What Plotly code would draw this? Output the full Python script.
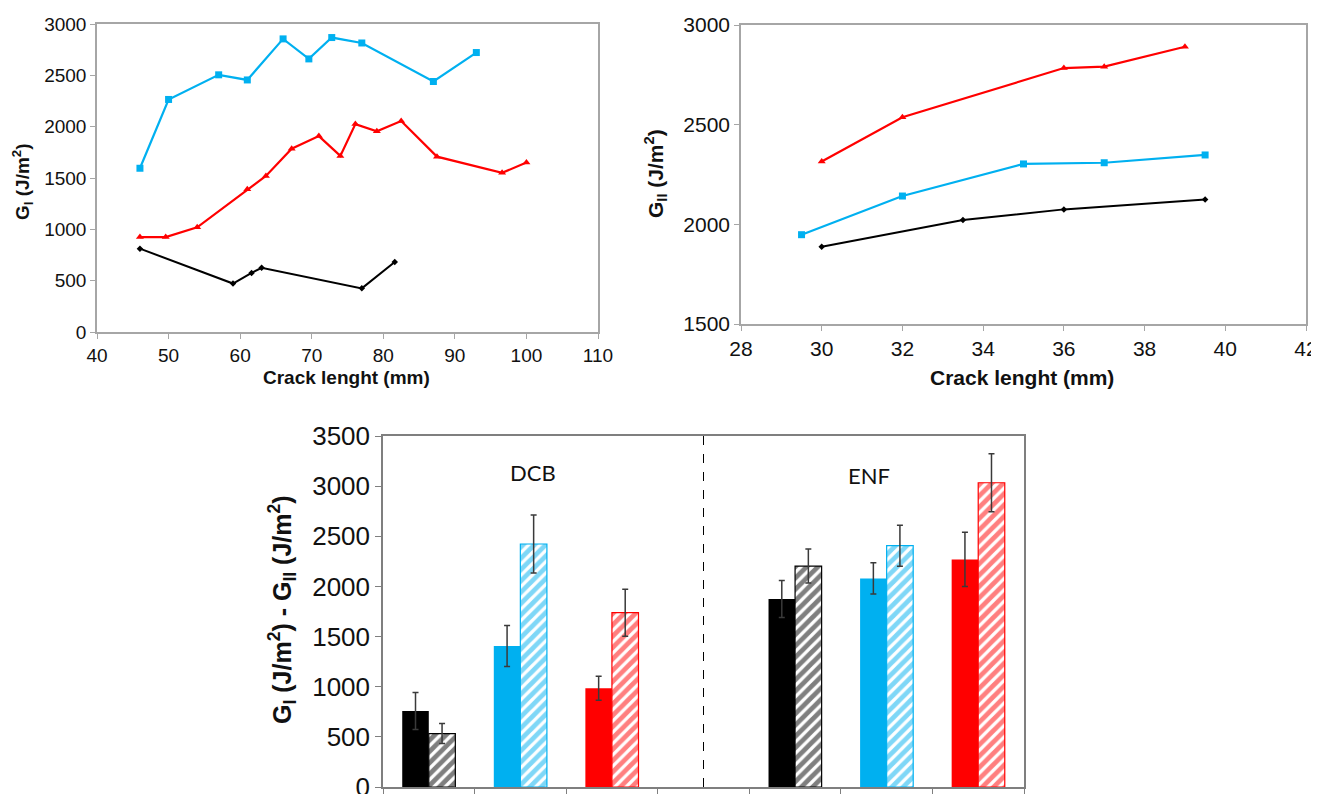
import plotly.graph_objects as go

W, H = 1319, 794
PAGE_OFFSET = 8  # default body margin of the html page

# ---------- Data: Mode I (DCB) R-curves ----------
gi_blue_x = [46, 50, 57, 61, 66, 69.6, 72.8, 77, 87, 93]
gi_blue_y = [1595, 2265, 2505, 2455, 2855, 2660, 2868, 2815, 2440, 2722]
gi_red_x = [46, 49.6, 54, 61, 63.6, 67.2, 71, 74, 76.1, 79.1, 82.5, 87.5, 96.6, 100]
gi_red_y = [925, 925, 1020, 1390, 1520, 1785, 1908, 1715, 2025, 1955, 2055, 1708, 1550, 1652]
gi_black_x = [46, 59, 61.6, 63, 77, 81.6]
gi_black_y = [812, 472, 575, 625, 425, 682]

# ---------- Data: Mode II (ENF) R-curves ----------
gii_red_x = [30, 32, 36, 37, 39]
gii_red_y = [2315, 2537, 2784, 2791, 2891]
gii_blue_x = [29.5, 32, 35, 37, 39.5]
gii_blue_y = [1948, 2142, 2303, 2309, 2348]
gii_black_x = [30, 33.5, 36, 39.5]
gii_black_y = [1888, 2022, 2075, 2125]

# ---------- Data: bar chart ----------
bar_categories = ["DCB-black", "DCB-blue", "DCB-red", "gap", "ENF-black", "ENF-blue", "ENF-red"]
bar_colors = ["#000000", "#00B0F0", "#FF0000", "#FFFFFF", "#000000", "#00B0F0", "#FF0000"]
solid_vals = [758, 1406, 984, None, 1874, 2080, 2269]
solid_err = [185, 205, 120, None, 185, 155, 270]
hatch_vals = [533, 2423, 1738, None, 2203, 2406, 3034]
hatch_err = [100, 290, 235, None, 170, 205, 290]

BLUE = "#00B0F0"
RED = "#FF0000"
BLACK = "#000000"
FONT = "Liberation Sans, Arial, sans-serif"

fig = go.Figure()

# Top-left
fig.add_trace(go.Scatter(x=gi_blue_x, y=gi_blue_y, mode="lines+markers",
                         line=dict(color=BLUE, width=2.2),
                         marker=dict(symbol="square", size=7, color=BLUE),
                         xaxis="x", yaxis="y", showlegend=False))
fig.add_trace(go.Scatter(x=gi_red_x, y=gi_red_y, mode="lines+markers",
                         line=dict(color=RED, width=2.2),
                         marker=dict(symbol="triangle-up", size=7, color=RED),
                         xaxis="x", yaxis="y", showlegend=False))
fig.add_trace(go.Scatter(x=gi_black_x, y=gi_black_y, mode="lines+markers",
                         line=dict(color=BLACK, width=2),
                         marker=dict(symbol="diamond", size=5, color=BLACK),
                         xaxis="x", yaxis="y", showlegend=False))

# Top-right
fig.add_trace(go.Scatter(x=gii_red_x, y=gii_red_y, mode="lines+markers",
                         line=dict(color=RED, width=2.2),
                         marker=dict(symbol="triangle-up", size=7, color=RED),
                         xaxis="x2", yaxis="y2", showlegend=False))
fig.add_trace(go.Scatter(x=gii_blue_x, y=gii_blue_y, mode="lines+markers",
                         line=dict(color=BLUE, width=2.2),
                         marker=dict(symbol="square", size=7, color=BLUE),
                         xaxis="x2", yaxis="y2", showlegend=False))
fig.add_trace(go.Scatter(x=gii_black_x, y=gii_black_y, mode="lines+markers",
                         line=dict(color=BLACK, width=2),
                         marker=dict(symbol="diamond", size=5, color=BLACK),
                         xaxis="x2", yaxis="y2", showlegend=False))

# Bottom bars
fig.add_trace(go.Bar(x=bar_categories, y=solid_vals,
                     marker=dict(color=bar_colors, line=dict(width=0)),
                     error_y=dict(type="data", array=solid_err, color="#3A3A3A",
                                  thickness=1.5, width=3),
                     xaxis="x3", yaxis="y3", showlegend=False))
fig.add_trace(go.Bar(x=bar_categories, y=hatch_vals,
                     marker=dict(color="white",
                                 line=dict(width=1.2, color=bar_colors),
                                 pattern=dict(shape="/", fgcolor=bar_colors,
                                              bgcolor="white", size=8, solidity=0.6)),
                     error_y=dict(type="data", array=hatch_err, color="#3A3A3A",
                                  thickness=1.5, width=3),
                     xaxis="x3", yaxis="y3", showlegend=False))


def px_x(p):
    return (p - PAGE_OFFSET) / W


def px_y(p):
    return 1 - (p - PAGE_OFFSET) / H


grid_gray = "#A6A6A6"

top_tick_font = dict(family=FONT, size=19, color="#111111")
top2_tick_font = dict(family=FONT, size=21, color="#111111")

fig.update_layout(
    width=W, height=H,
    margin=dict(l=0, r=0, t=0, b=0, autoexpand=False),
    paper_bgcolor="white", plot_bgcolor="white",
    barmode="group", bargap=0.42, bargroupgap=0,
    xaxis=dict(domain=[px_x(97), px_x(598)], range=[40, 110], dtick=10,
               anchor="y", showgrid=False, zeroline=False, automargin=False,
               showline=True, linecolor=grid_gray, linewidth=1.5, mirror=True,
               ticks="outside", ticklen=5, tickcolor=grid_gray,
               tickfont=top_tick_font),
    yaxis=dict(domain=[px_y(332), px_y(24)], range=[0, 3000], dtick=500,
               anchor="x", showgrid=False, zeroline=False, automargin=False,
               showline=True, linecolor=grid_gray, linewidth=1.5, mirror=True,
               ticks="outside", ticklen=5, tickcolor=grid_gray,
               tickfont=top_tick_font),
    xaxis2=dict(domain=[px_x(741), px_x(1306)], range=[28, 42], dtick=2,
                anchor="y2", showgrid=False, zeroline=False, automargin=False,
                showline=True, linecolor=grid_gray, linewidth=1.5, mirror=True,
                ticks="outside", ticklen=5, tickcolor=grid_gray,
                ticklabeloverflow="allow",
                tickfont=top2_tick_font),
    yaxis2=dict(domain=[px_y(324), px_y(25)], range=[1500, 3000], dtick=500,
                anchor="x2", showgrid=False, zeroline=False, automargin=False,
                showline=True, linecolor=grid_gray, linewidth=1.5, mirror=True,
                ticks="outside", ticklen=5, tickcolor=grid_gray,
                tickfont=top2_tick_font),
    xaxis3=dict(domain=[px_x(383), px_x(1024)], anchor="y3", automargin=False,
                type="category", categoryorder="array", categoryarray=bar_categories,
                range=[-0.5, 6.5], showticklabels=False, tickson="boundaries",
                showgrid=False, zeroline=False,
                showline=True, linecolor="#7F7F7F", linewidth=1.5, mirror=True,
                ticks="outside", ticklen=6, tickcolor="#7F7F7F"),
    yaxis3=dict(domain=[px_y(787), px_y(436)], range=[0, 3500], dtick=500,
                anchor="x3", showgrid=False, zeroline=False, automargin=False,
                showline=True, linecolor="#7F7F7F", linewidth=1.5, mirror=True,
                ticks="outside", ticklen=6, tickcolor="#7F7F7F",
                ticklabeloverflow="allow",
                tickfont=dict(family=FONT, size=26, color="#111111")),
)

# dashed separator in the gap slot
fig.add_shape(type="line", xref="x3", yref="y3", x0=3, x1=3, y0=0, y1=3500,
              line=dict(color="black", width=1, dash="dash"))

ann = []
# axis titles
ann.append(dict(text="<b>Crack lenght (mm)</b>", x=px_x(346), y=px_y(377),
                font=dict(family=FONT, size=19, color="#111111")))
ann.append(dict(text="<b>Crack lenght (mm)</b>", x=px_x(1022), y=px_y(377),
                font=dict(family=FONT, size=21, color="#111111")))
ann.append(dict(text="<b>G<sub>I</sub> (J/m<sup>2</sup>)</b>", x=px_x(23), y=px_y(182),
                textangle=-90, font=dict(family=FONT, size=19, color="#111111")))
ann.append(dict(text="<b>G<sub>II</sub> (J/m<sup>2</sup>)</b>", x=px_x(655), y=px_y(174),
                textangle=-90, font=dict(family=FONT, size=21, color="#111111")))
ann.append(dict(text="<b>G<sub>I</sub> (J/m<sup>2</sup>) - G<sub>II</sub> (J/m<sup>2</sup>)</b>",
                x=px_x(282), y=px_y(610), textangle=-90,
                font=dict(family=FONT, size=25, color="#111111")))
# group labels
ann.append(dict(text="DCB", x=px_x(533), y=px_y(472),
                font=dict(family="Lato, sans-serif", size=22, color="#111111")))
ann.append(dict(text="ENF", x=px_x(869), y=px_y(475),
                font=dict(family="Lato, sans-serif", size=22, color="#111111")))

for a in ann:
    a.update(xref="paper", yref="paper", showarrow=False, xanchor="center", yanchor="middle")
fig.update_layout(annotations=ann)

fig.write_html("out.html")
